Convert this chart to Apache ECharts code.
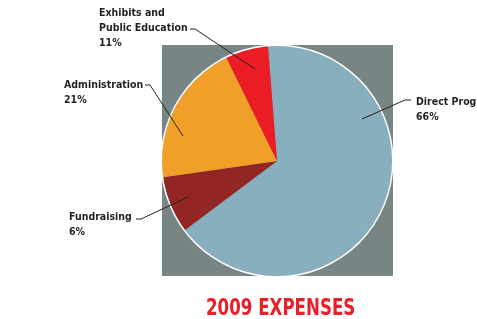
<!DOCTYPE html>
<html>
<head>
<meta charset="utf-8">
<script src="https://cdn.jsdelivr.net/npm/echarts@6/dist/echarts.min.js"></script>
<style>
  html, body { margin: 0; padding: 0; background: #fff; }
  #main { width: 477px; height: 319px; }
</style>
</head>
<body>
<div id="main"></div>
<script>
// slice sizes as drawn, and the percentages printed on the labels
var categories = ['Direct Programs', 'Fundraising', 'Administration', 'Exhibits and\nPublic Education'];
var values = [66, 8, 20, 6];
var printedPct = ['66%', '6%', '21%', '11%'];
var colors = ['#88afbe', '#922624', '#f0a028', '#ec1c24'];

// label placement and leader lines (same order as categories)
var labelPlace = [
  { x: 416, y: 95, line: [[411, 100], [405, 100], [362, 119]] },
  { x: 69, y: 210, line: [[136, 219], [141, 219], [188, 197]] },
  { x: 64, y: 78, line: [[145, 85], [150, 85], [183, 136]] },
  { x: 99, y: 6, line: [[190, 29], [195, 29], [255, 69]] }
];

var FONT = '"DejaVu Sans", sans-serif';
var cx = 277, cy = 161, R = 115;

var chart = echarts.init(document.getElementById('main'));

var pieData = categories.map(function (c, i) {
  return { name: c, value: values[i], pct: printedPct[i], itemStyle: { color: colors[i] } };
});

var graphics = [{
  type: 'rect',
  z: -10,
  shape: { x: cx - R, y: cy - R - 1, width: 2 * R + 1, height: 2 * R + 1 },
  style: { fill: '#778684' }
}, {
  type: 'text',
  x: 206,
  y: 309,
  scaleX: 0.805,
  style: {
    text: '2009 EXPENSES',
    fill: '#e8202a',
    font: 'bold condensed 23px "DejaVu Sans", sans-serif',
    verticalAlign: 'middle'
  }
}];
labelPlace.forEach(function (pl) {
  graphics.push({
    type: 'polyline',
    z: 20,
    shape: { points: pl.line },
    style: { stroke: '#231f20', lineWidth: 1, fill: null }
  });
});

var option = {
  animation: false,
  graphic: graphics,
  series: [
    {
      type: 'pie',
      center: [cx, cy],
      radius: [0, R],
      startAngle: 94.5,
      clockwise: true,
      data: pieData,
      itemStyle: { borderWidth: 0 },
      label: {
        show: true,
        position: 'outside',
        overflow: 'none',
        formatter: function (p) { return p.name + '\n' + p.data.pct; },
        color: '#231f20',
        fontFamily: FONT,
        fontSize: 10.5,
        fontWeight: 'bold condensed',
        lineHeight: 15
      },
      labelLine: { show: false },
      labelLayout: function (params) {
        var pl = labelPlace[params.dataIndex];
        return { x: pl.x, y: pl.y, align: 'left', verticalAlign: 'top' };
      },
      silent: true,
      z: 2
    },
    {
      type: 'pie',
      center: [cx, cy],
      radius: [R, R + 1.5],
      silent: true,
      label: { show: false },
      labelLine: { show: false },
      data: [{ value: 1, itemStyle: { color: '#ffffff' } }],
      z: 3
    }
  ]
};

chart.setOption(option);
</script>
</body>
</html>
